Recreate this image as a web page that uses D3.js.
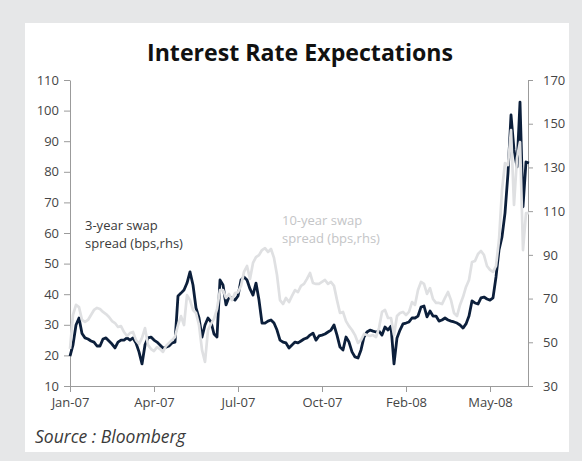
<!DOCTYPE html>
<html>
<head>
<meta charset="utf-8">
<script src="https://cdn.jsdelivr.net/npm/d3@7"></script>
<style>
  html, body { margin: 0; padding: 0; background: #e6e7e8; }
  svg { display: block; }
</style>
</head>
<body>
<svg id="chart" width="582" height="461"></svg>
<script>
// Observation index of each x-axis label (one observation every two trading days)
const tickIndex = [0, 28, 56, 84, 112, 140];
const tickLabels = ["Jan-07", "Apr-07", "Jul-07", "Oct-07", "Feb-08", "May-08"];

const leftTicks = [10, 20, 30, 40, 50, 60, 70, 80, 90, 100, 110];
const rightTicks = [30, 50, 70, 90, 110, 130, 150, 170];

// 3-year swap spread, bps (right-hand scale)
const swap3y = [
  43.7, 48.8, 57.9, 61.1, 54.0, 52.0, 51.5, 50.6, 50.1, 48.3,
  48.3, 51.5, 52.0, 50.6, 49.2, 47.4, 50.1, 51.0, 51.0, 52.0,
  51.0, 52.0, 49.7, 45.6, 40.1, 48.8, 52.0, 52.4, 51.0, 50.1,
  48.8, 47.4, 47.8, 48.3, 49.7, 50.1, 71.2, 72.5, 73.9, 77.1,
  82.2, 76.2, 65.7, 61.1, 52.4, 57.9, 61.1, 59.3, 53.8, 52.4,
  78.5, 76.2, 67.1, 70.7, 70.3, 69.3, 71.2, 78.5, 79.9, 78.5,
  74.4, 71.6, 77.1, 69.3, 58.8, 58.8, 59.7, 60.2, 58.8, 55.6,
  51.0, 50.1, 49.7, 47.4, 48.8, 50.1, 49.7, 50.6, 51.5, 52.0,
  53.3, 54.2, 51.0, 52.9, 53.3, 53.8, 54.7, 55.6, 57.9, 53.3,
  47.8, 46.5, 52.4, 50.1, 45.6, 43.3, 42.8, 46.5, 52.4, 54.7,
  55.6, 55.1, 54.7, 55.1, 53.3, 57.0, 55.6, 57.4, 40.1, 52.0,
  55.6, 58.4, 58.8, 59.3, 61.1, 61.1, 62.0, 66.1, 66.6, 61.6,
  64.3, 62.0, 62.0, 59.7, 60.2, 61.1, 60.2, 59.7, 59.3, 58.8,
  57.9, 56.5, 58.4, 62.0, 68.9, 68.0, 67.5, 70.3, 70.7, 69.8,
  69.3, 70.3, 79.9, 92.2, 98.2, 109.1, 127.4, 154.0, 138.0, 130.2,
  159.9, 112.0, 132.5, 132.0
];

// 10-year swap spread, bps (right-hand scale)
const swap10y = [
  47.0, 62.5, 67.1, 66.1, 60.2, 59.3, 60.2, 62.5, 64.8, 65.7,
  65.2, 63.9, 62.9, 61.6, 59.7, 58.8, 57.0, 57.4, 54.7, 52.9,
  54.2, 54.7, 51.0, 49.2, 52.0, 56.5, 48.8, 46.9, 46.0, 47.8,
  46.9, 45.6, 48.3, 49.7, 51.0, 52.4, 57.9, 62.0, 57.9, 71.6,
  69.3, 64.8, 63.4, 57.9, 46.5, 41.0, 55.6, 58.4, 60.7, 65.2,
  73.9, 73.9, 70.3, 72.1, 69.3, 72.5, 72.9, 75.8, 82.2, 84.9,
  79.0, 86.3, 89.0, 89.9, 92.2, 93.1, 91.3, 92.7, 88.6, 80.8,
  69.3, 67.5, 70.3, 68.4, 71.2, 73.9, 73.0, 75.8, 76.7, 79.0,
  81.7, 77.1, 76.7, 76.7, 77.6, 78.5, 76.7, 77.6, 75.8, 69.3,
  63.4, 63.9, 59.7, 57.4, 55.6, 53.3, 49.7, 51.0, 53.8, 53.3,
  52.9, 53.3, 52.4, 56.5, 63.9, 64.8, 61.1, 61.1, 53.3, 62.0,
  63.4, 63.9, 62.5, 63.9, 68.4, 67.1, 73.9, 77.6, 76.7, 72.1,
  74.8, 69.8, 68.0, 68.0, 67.5, 70.3, 73.0, 69.3, 63.4, 62.0,
  67.1, 70.7, 75.3, 78.5, 86.7, 87.2, 90.4, 91.8, 89.9, 84.9,
  83.1, 82.2, 84.9, 96.8, 119.7, 132.0, 131.1, 147.1, 112.8, 134.3,
  141.6, 92.2, 109.1, 109.1
];

const W = 582, H = 461;
const plot = { left: 70, right: 529, top: 80, bottom: 386 };
const axisColor = "#9b9b9b";
const textColor = "#454545";
const labelFont = "'Open Sans', 'Noto Sans', sans-serif";

const svg = d3.select("#chart");

// panel
svg.append("rect").attr("x", 0).attr("y", 0).attr("width", W).attr("height", H).attr("fill", "#e6e7e8");
svg.append("rect").attr("x", 25).attr("y", 23).attr("width", 544).attr("height", 429).attr("fill", "#ffffff");

const x = d3.scaleLinear().domain([0, swap3y.length - 1]).range([plot.left, plot.right]);
const yLeft = d3.scaleLinear().domain([10, 110]).range([plot.bottom, plot.top]);
const yRight = d3.scaleLinear().domain([30, 170]).range([plot.bottom, plot.top]);

function styleAxis(g) {
  g.selectAll("path.domain").attr("stroke", axisColor).attr("stroke-width", 1);
  g.selectAll(".tick line").attr("stroke", axisColor).attr("stroke-width", 1);
  g.selectAll(".tick text")
    .attr("fill", textColor)
    .style("font-family", labelFont)
    .style("font-size", "13px");
}

// left axis
svg.append("g")
  .attr("transform", `translate(${plot.left},0)`)
  .call(d3.axisLeft(yLeft).tickValues(leftTicks).tickSize(6).tickSizeOuter(0).tickPadding(5))
  .call(styleAxis);

// right axis
svg.append("g")
  .attr("transform", `translate(${plot.right - 1},0)`)
  .call(d3.axisRight(yRight).tickValues(rightTicks).tickSize(5).tickSizeOuter(0).tickPadding(10))
  .call(styleAxis);

// bottom axis
svg.append("g")
  .attr("transform", `translate(0,${plot.bottom})`)
  .call(d3.axisBottom(x).tickValues(tickIndex)
    .tickFormat((d, i) => tickLabels[i]).tickSize(6).tickSizeOuter(0).tickPadding(6))
  .call(styleAxis);

// series
const line = d3.line().x((d, i) => x(i)).y(d => yRight(d)).curve(d3.curveLinear);

svg.append("path")
  .datum(swap3y)
  .attr("fill", "none")
  .attr("stroke", "#0c1f3b")
  .attr("stroke-width", 2.8)
  .attr("stroke-linejoin", "round")
  .attr("d", line);

svg.append("path")
  .datum(swap10y)
  .attr("fill", "none")
  .attr("stroke", "#dfe0e2")
  .attr("stroke-width", 2.7)
  .attr("stroke-linejoin", "round")
  .attr("d", line);

// title
svg.append("text")
  .attr("x", 300).attr("y", 61)
  .attr("text-anchor", "middle")
  .attr("fill", "#111")
  .attr("textLength", 306)
  .attr("lengthAdjust", "spacingAndGlyphs")
  .style("font-family", labelFont)
  .style("font-weight", "bold")
  .style("font-size", "24px")
  .text("Interest Rate Expectations");

// series labels
const lab3 = svg.append("text")
  .attr("fill", "#3a3a3a")
  .style("font-family", labelFont)
  .style("font-size", "13px");
lab3.append("tspan").attr("x", 85).attr("y", 230).text("3-year swap");
lab3.append("tspan").attr("x", 85).attr("y", 248).text("spread (bps,rhs)");

const lab10 = svg.append("text")
  .attr("fill", "#c4c5c7")
  .style("font-family", labelFont)
  .style("font-size", "13px");
lab10.append("tspan").attr("x", 282).attr("y", 225).text("10-year swap");
lab10.append("tspan").attr("x", 282).attr("y", 243).text("spread (bps,rhs)");

// source note
svg.append("text")
  .attr("x", 35).attr("y", 443)
  .attr("fill", "#3a3a3a")
  .style("font-family", labelFont)
  .style("font-style", "italic")
  .style("font-size", "17.5px")
  .text("Source : Bloomberg");
</script>
</body>
</html>
